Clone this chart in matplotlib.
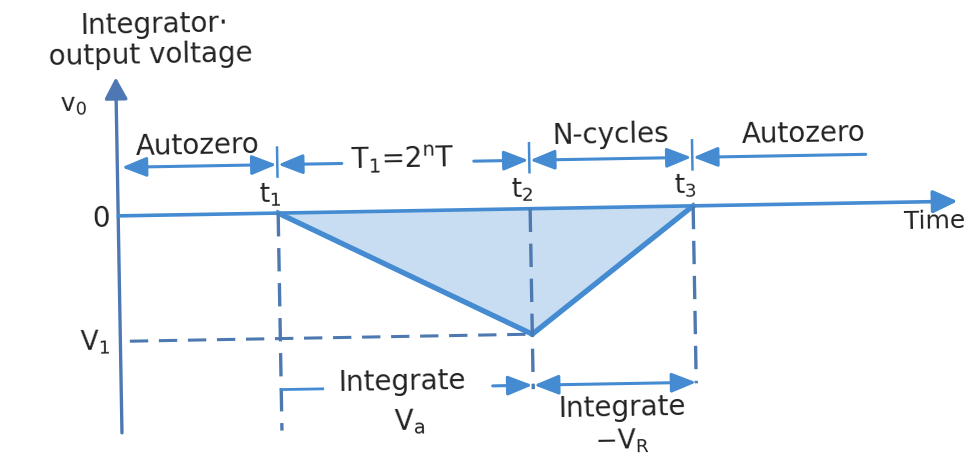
import matplotlib
matplotlib.use("Agg")
import matplotlib.pyplot as plt
from matplotlib.patches import FancyArrowPatch, Polygon
from matplotlib.transforms import Affine2D

plt.rcParams["font.family"] = ["DejaVu Sans"]
plt.rcParams["mathtext.default"] = "regular"

# ---------------- data (time in units of t1, voltage in units of |V1|) ----------
event_labels = ["t$_1$", "t$_2$", "t$_3$"]
event_times = [1.0, 2.575, 3.594]
ramp_times = [1.0, 2.575, 3.594]
ramp_volts = [0.0, -1.0, 0.0]
v1_level = -1.0
phase_labels = ["Autozero", "T$_1$=2$^n$T", "N-cycles", "Autozero"]
integrate_labels = ["Integrate", "V$_a$", "Integrate", "\u2212V$_R$"]

# ---------------- layout helpers (unrotated pixel -> data units) --------------
X0, UX = 118.5, 160.0
Y0, UY = 210.5, 125.5
def px(x):
    return (x - X0) / UX
def py(y):
    return (Y0 - y) / UY

W, H = 968, 464
fig = plt.figure(figsize=(W / 100, H / 100), dpi=100)
ax = fig.add_axes([0, 0, 1, 1])
ax.set_xlim(px(0), px(W))
ax.set_ylim(py(H), py(0))
ax.axis("off")

ANG = 1.0
rot = Affine2D().rotate_deg_around(W / 2, H / 2, ANG)
tr = ax.transData + rot

LINE = "#448bd1"
AXIS = "#4d78b4"
DASH = "#4d78b0"
FILL = "#c8ddf1"
TXT = "#222222"
FS = 20

def arrow(x0, y0, x1, y1, style, lw=2.2, color=LINE):
    p = FancyArrowPatch((x0, y0), (x1, y1), arrowstyle=style, mutation_scale=1,
                        lw=lw, color=color, transform=tr, shrinkA=0, shrinkB=0,
                        clip_on=False)
    ax.add_patch(p)

def text(x, y, s, fs=FS, ha="center", va="center"):
    ax.text(x, y, s, transform=tr, rotation=ANG, rotation_mode="anchor",
            ha=ha, va=va, fontsize=fs, color=TXT, clip_on=False)

HEAD = "head_length=15,head_width=6"
DBL = "<|-|>," + HEAD
ONE = "-|>," + HEAD

# filled ramp area
poly = Polygon(list(zip(ramp_times, ramp_volts)), closed=True, facecolor=FILL,
               edgecolor="none", transform=tr)
ax.add_patch(poly)

# axes
arrow(0, py(427.5), 0, py(72), "-|>,head_length=13,head_width=7", lw=2.4, color=AXIS)
arrow(0, 0, px(958), 0, "-|>,head_length=15,head_width=7", lw=2.6, color=LINE)

# ramp
ax.plot(ramp_times, ramp_volts, color=LINE, lw=3.8, transform=tr,
        solid_joinstyle="miter", clip_on=False)

# V1 dashed level
ax.plot([px(128), ramp_times[1]], [v1_level, v1_level], color=DASH, lw=2.2,
        dashes=(6, 3.5), transform=tr)

# dashed verticals at event times
dash_bottoms = [py(428), py(391), py(388)]
for t, b in zip(event_times, dash_bottoms):
    ax.plot([t, t], [0, b], color=DASH, lw=2.4, dashes=(7, 3.5), transform=tr)

# top phase arrows
ytop = py(162)
for t in event_times:
    ax.plot([t, t], [py(145), py(174)], color=LINE, lw=1.8, transform=tr)
arrow(px(123), ytop, event_times[0] - 0.005, ytop, DBL)
arrow(px(343), ytop, event_times[0] + 0.005, ytop, ONE)
arrow(px(475), ytop, event_times[1] - 0.005, ytop, ONE)
arrow(event_times[1] + 0.005, ytop, event_times[2] - 0.005, ytop, DBL)
arrow(px(867), ytop, event_times[2] + 0.005, ytop, ONE)

# bottom integrate arrows
ybot = py(387)
ax.plot([event_times[0], px(320)], [ybot, ybot], color=LINE, lw=2.0, transform=tr)
arrow(px(490), ybot, event_times[1] - 0.005, ybot, ONE)
arrow(event_times[1] + 0.005, ybot, event_times[2], ybot, DBL)

# labels
text(px(158), py(27), "Integrator\u00b7", va="baseline")
text(px(153.5), py(57), "output voltage", va="baseline")
text(px(76), py(99), "v$_0$", fs=18)
text(px(101), py(212), "0")
text(px(93.5), py(336), "V$_1$", fs=19)
for t, lab, yy in zip(event_times, event_labels, [191, 191, 190]):
    text(t - 0.05, py(yy), lab, fs=19)
text(px(965), py(229), "Time", fs=18, ha="right")
for lab, xx, yy in zip(phase_labels, [199, 403.5, 612, 805], [141, 158, 137.5, 139.5]):
    text(px(xx), py(yy), lab)
for lab, xx, yy, fs in zip(integrate_labels, [399, 406, 619, 618],
                           [380, 420.5, 410, 444], [20, 20, 20, 19]):
    text(px(xx), py(yy), lab, fs=fs)

fig.savefig("out.png", dpi=100, facecolor="white")
